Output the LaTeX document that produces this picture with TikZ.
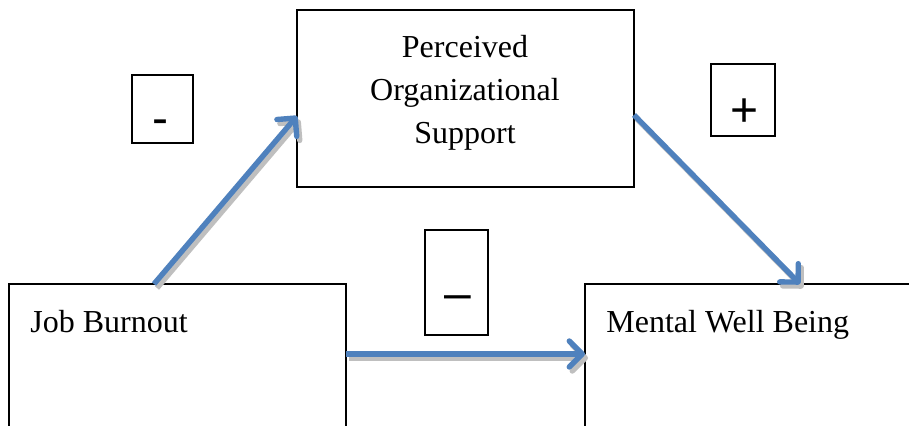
\documentclass[tikz,border=0pt]{standalone}
\usepackage{fontspec}
\setmainfont{Liberation Serif}
\newfontfamily\signfont{Liberation Sans}
\usetikzlibrary{arrows.meta}
\definecolor{arrowblue}{HTML}{4F81BD}
\definecolor{shadowgray}{HTML}{BFBFBF}
\begin{document}
\begin{tikzpicture}[x=0.5pt,y=-0.5pt,
  box/.style={draw=black,line width=0.7pt,inner sep=0pt,outer sep=0pt},
  signbox/.style={draw=black,line width=0.8pt,inner sep=0pt,outer sep=0pt},
  lbl/.style={font=\fontsize{16}{21.5}\selectfont,anchor=base west,inner sep=0pt},
  sign/.style={font=\signfont\fontsize{24}{24}\selectfont,inner sep=0pt,anchor=base},
  conn/.style={draw=arrowblue,line width=2.7pt,-{Straight Barb[length=6.5pt,width=13pt,round]}},
  shadowconn/.style={draw=shadowgray,line width=2.7pt,-{Straight Barb[length=6.5pt,width=13pt,round]}}
]
\clip (0,0) rectangle (909,426);
\fill[white] (0,0) rectangle (909,426);
% main boxes
\node[box,minimum width=168.5pt,minimum height=88.5pt] (pos) at (465.5,98.5) {};
\node[box,minimum width=168.5pt,minimum height=96pt] (jb) at (177.5,380) {};
\node[box,minimum width=187.5pt,minimum height=96pt] (mw) at (772.5,380) {};
% box texts
\node[font=\fontsize{16}{21.5}\selectfont,anchor=base,inner sep=0pt] (t1) at (465,58) {Perceived};
\node[font=\fontsize{16}{21.5}\selectfont,anchor=base,inner sep=0pt] (t2) at (465,101) {Organizational};
\node[font=\fontsize{16}{21.5}\selectfont,anchor=base,inner sep=0pt] (t3) at (465,144) {Support};
\node[lbl] (jbt) at (30,333) {Job Burnout};
\node[lbl] (mwt) at (606,333) {Mental Well Being};
% sign boxes
\node[signbox,minimum width=30.5pt,minimum height=34pt] (s1) at (162.5,109) {};
\node[signbox,minimum width=32pt,minimum height=36pt] (s2) at (743,100) {};
\node[signbox,minimum width=31.5pt,minimum height=52.5pt] (s3) at (456.5,282.5) {};
\node[sign] (s1t) at (160,135) {-};
\node[sign] (s2t) at (745,127) {+};
\node[sign] (s3t) at (458,310) {–};
% connector end points
\coordinate (a1s) at (jb.north west -| 154,0);
\coordinate (a1e) at (297,116);
\coordinate (a2s) at (634,115);
\coordinate (a2e) at (mw.north west -| 800,0);
\coordinate (a3s) at (jb.east |- 0,354);
\coordinate (a3e) at (mw.west |- 0,354);
% shadows
\draw[shadowconn] ([shift={(3,4)}]a1s) -- ([shift={(3,4)}]a1e);
\draw[shadowconn] ([shift={(3,4)}]a2s) -- ([shift={(3,4)}]a2e);
\draw[shadowconn] ([shift={(3,4)}]a3s) -- ([shift={(3,4)}]a3e);
% connectors
\draw[conn] (a1s) -- (a1e);
\draw[conn] (a2s) -- (a2e);
\draw[conn] (a3s) -- (a3e);
\end{tikzpicture}
\end{document}
